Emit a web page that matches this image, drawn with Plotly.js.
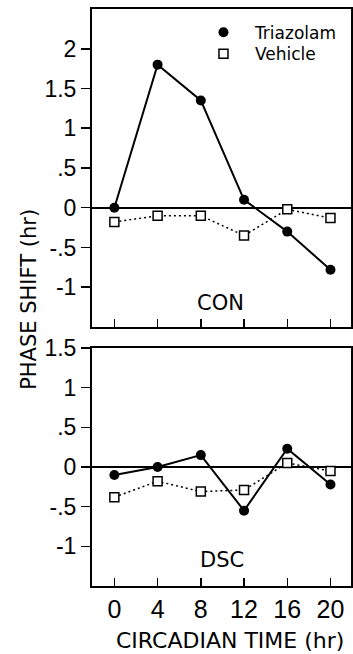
<!DOCTYPE html>
<html>
<head>
<meta charset="utf-8">
<script src="https://cdn.plot.ly/plotly-3.0.1.min.js"></script>
<style>html,body{margin:0;padding:0;background:#fff;}#chart{width:353px;height:654px;}</style>
</head>
<body>
<div id="chart"></div>
<script>
const hours = [0, 4, 8, 12, 16, 20];
const hourLabels = ['0', '4', '8', '12', '16', '20'];
const conTriazolam = [0, 1.8, 1.35, 0.1, -0.3, -0.78];
const conVehicle = [-0.18, -0.1, -0.1, -0.35, -0.02, -0.13];
const dscTriazolam = [-0.1, 0, 0.15, -0.55, 0.23, -0.22];
const dscVehicle = [-0.38, -0.18, -0.31, -0.29, 0.05, -0.05];
const topTickVals = [-1, -0.5, 0, 0.5, 1, 1.5, 2];
const topTickText = ['-1', '-.5', '0', '.5', '1', '1.5', '2'];
const botTickVals = [-1, -0.5, 0, 0.5, 1, 1.5];
const botTickText = ['-1', '-.5', '0', '.5', '1', '1.5'];
const seriesNames = ['Triazolam', 'Vehicle'];

const triLine = {color: '#000', width: 2};
const vehLine = {color: '#000', width: 1.5, dash: '2px,3px'};
const triMarker = {symbol: 'circle', size: 10, color: '#000'};
const vehMarkerFill = {symbol: 'square', size: 9, color: '#fff', line: {color: '#000', width: 1.5}};

const traces = [
  {x: hours, y: conVehicle, xaxis: 'x', yaxis: 'y', mode: 'lines+markers', line: vehLine, marker: vehMarkerFill, showlegend: false},
  {x: hours, y: conTriazolam, xaxis: 'x', yaxis: 'y', mode: 'lines+markers', line: triLine, marker: triMarker, showlegend: false},
  {x: hours, y: dscVehicle, xaxis: 'x2', yaxis: 'y2', mode: 'lines+markers', line: vehLine, marker: vehMarkerFill, showlegend: false},
  {x: hours, y: dscTriazolam, xaxis: 'x2', yaxis: 'y2', mode: 'lines+markers', line: triLine, marker: triMarker, showlegend: false},
  {x: [null], y: [null], xaxis: 'x', yaxis: 'y', mode: 'markers', marker: triMarker, name: seriesNames[0], legend: 'legend'},
  {x: [null], y: [null], xaxis: 'x', yaxis: 'y', mode: 'markers', marker: vehMarkerFill, name: seriesNames[1], legend: 'legend2'}
];

const tickFont = {family: 'Liberation Sans, Arial, sans-serif', size: 23, color: '#000'};
const gothic = 'DejaVu Sans, sans-serif';
const legendFont = {family: gothic, size: 17, color: '#000'};

const xCommon = {
  range: [-2.07, 21.9], tickvals: hours, ticktext: hourLabels,
  ticks: 'inside', ticklen: 8, tickwidth: 1.5, tickcolor: '#000',
  showline: true, linewidth: 2, linecolor: '#000', mirror: true,
  showgrid: false, zeroline: false, fixedrange: true
};
const yCommon = {
  ticks: 'outside', ticklen: 9, tickwidth: 1.5, tickcolor: '#000',
  showline: true, linewidth: 2, linecolor: '#000', mirror: true,
  showgrid: false, zeroline: true, zerolinewidth: 2, zerolinecolor: '#000',
  tickfont: tickFont, fixedrange: true
};

const layout = {
  width: 353, height: 654,
  margin: {l: 92, r: 2, t: 9, b: 68},
  paper_bgcolor: '#fff', plot_bgcolor: '#fff',
  showlegend: true,
  legend: {x: 0.386, y: 0.99, xanchor: 'left', yanchor: 'top', bgcolor: 'rgba(0,0,0,0)',
           font: legendFont, itemwidth: 53},
  legend2: {x: 0.386, y: 0.953, xanchor: 'left', yanchor: 'top', bgcolor: 'rgba(0,0,0,0)',
           font: legendFont, itemwidth: 53},
  xaxis: Object.assign({}, xCommon, {anchor: 'y', showticklabels: false}),
  xaxis2: Object.assign({}, xCommon, {anchor: 'y2', showticklabels: true,
    tickfont: {family: 'Liberation Sans, Arial, sans-serif', size: 25, color: '#000'}, ticklabelstandoff: 0}),
  yaxis: Object.assign({}, yCommon, {domain: [0.4489, 1], range: [-1.5, 2.5], tickvals: topTickVals, ticktext: topTickText}),
  yaxis2: Object.assign({}, yCommon, {domain: [0, 0.4125], range: [-1.5, 1.5], tickvals: botTickVals, ticktext: botTickText}),
  annotations: [
    {text: 'CON', xref: 'x', yref: 'y', x: 9.8, y: -1.2, showarrow: false,
     font: {family: gothic, size: 21, color: '#000'}},
    {text: 'DSC', xref: 'x2', yref: 'y2', x: 10, y: -1.17, showarrow: false,
     font: {family: gothic, size: 21, color: '#000'}},
    {text: 'PHASE SHIFT (hr)', xref: 'paper', yref: 'paper', x: -0.243, y: 0.496,
     xanchor: 'center', yanchor: 'middle', textangle: -90, showarrow: false,
     font: {family: gothic, size: 21, color: '#000'}},
    {text: 'CIRCADIAN TIME (hr)', xref: 'paper', yref: 'paper', x: 0.533, y: -0.0953,
     xanchor: 'center', yanchor: 'middle', showarrow: false,
     font: {family: gothic, size: 22, color: '#000'}}
  ]
};

Plotly.newPlot('chart', traces, layout, {displayModeBar: false, staticPlot: true});
</script>
</body>
</html>
